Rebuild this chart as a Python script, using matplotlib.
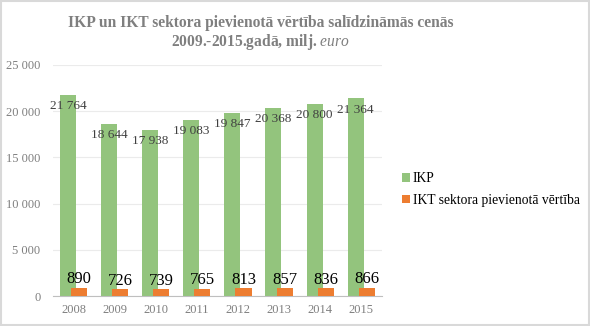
import numpy as np
import matplotlib.pyplot as plt
from matplotlib.patches import Rectangle

years = ['2008', '2009', '2010', '2011', '2012', '2013', '2014', '2015']
ikp = [21764, 18644, 17938, 19083, 19847, 20368, 20800, 21364]
ikt = [890, 726, 739, 765, 813, 857, 836, 866]
yticks = [0, 5000, 10000, 15000, 20000, 25000]

green = '#93C47D'
orange = '#ED7D31'
gray = '#7F7F7F'

plt.rcParams['font.family'] = ['Liberation Serif', 'DejaVu Serif']
plt.rcParams['mathtext.fontset'] = 'custom'
plt.rcParams['mathtext.rm'] = 'Liberation Serif'
plt.rcParams['mathtext.it'] = 'Liberation Serif:italic'

def fmt(v):
    return f'{v:,}'.replace(',', ' ')

fig = plt.figure(figsize=(5.9, 3.26), dpi=100)
ax = fig.add_axes([0.09, 0.092, 0.557, 0.709])

x = np.arange(len(years))
w = 0.39
off = 0.135
b1 = ax.bar(x - off, ikp, w, color=green, label='IKP', zorder=2)
b2 = ax.bar(x + off, ikt, w, color=orange, label='IKT sektora pievienotā vērtība', zorder=3)

for xi, v in zip(x, ikp):
    ax.text(xi - off, v - 550, fmt(v), ha='center', va='top', fontsize=9.5, color='#404040', zorder=4)
for xi, v in zip(x, ikt):
    ax.text(xi + off, v + 60, fmt(v), ha='center', va='bottom', fontsize=12, color='black', zorder=4)

ax.set_xlim(-0.5, len(years) - 0.5)
ax.set_ylim(0, 25000)
ax.set_yticks(yticks)
ax.set_yticklabels([fmt(t) for t in yticks])
ax.set_xticks(x)
ax.set_xticklabels(years)
ax.tick_params(axis='both', length=0, colors=gray, labelsize=9)
ax.tick_params(axis='y', pad=9)
ax.tick_params(axis='x', pad=6)
ax.grid(axis='y', color='#EBEBEB', lw=0.8, zorder=0)
for s in ['top', 'right', 'left']:
    ax.spines[s].set_visible(False)
ax.spines['bottom'].set_color('#BFBFBF')

fig.legend(handles=[b1, b2], loc='upper left', bbox_to_anchor=(0.66, 0.51),
           frameon=False, fontsize=9.8, handlelength=0.6, handleheight=0.6,
           handletextpad=0.2, labelspacing=0.65)

fig.text(0.442, 0.93, 'IKP un IKT sektora pievienotā vērtība salīdzināmās cenās',
         ha='center', va='center', fontsize=11.2, fontweight='bold', color=gray)
fig.text(0.442, 0.872, '2009.-2015.gadā, milj. $\\mathit{euro}$',
         ha='center', va='center', fontsize=11.2, fontweight='bold', color=gray)

fig.patches.append(Rectangle((0.002, 0.003), 0.996, 0.994, transform=fig.transFigure,
                             fill=False, ec='#D9D9D9', lw=1.5))

fig.savefig('out.png', dpi=100)
